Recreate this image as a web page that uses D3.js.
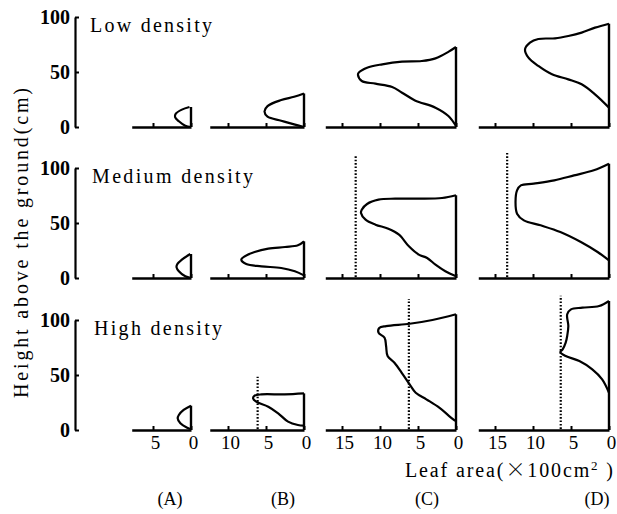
<!DOCTYPE html>
<html>
<head>
<meta charset="utf-8">
<script src="https://cdn.jsdelivr.net/npm/d3@7"></script>
<style>
  body { margin: 0; background: #fff; }
  svg text { font-family: "Liberation Serif", "DejaVu Serif", serif; fill: #000; }
</style>
</head>
<body>
<script>
/**
 * vertical leaf area profiles, 3 densities x 4 growth stages
 */

var columns = ["(A)", "(B)", "(C)", "(D)"];
var densities = ["Low density", "Medium density", "High density"];
var heightTicks = [0, 50, 100];
var areaTicks = [[5, 0], [10, 5, 0], [15, 10, 5, 0], [15, 10, 5, 0]];
var areaExtent = [7.8, 12.4, 17.2, 17.2];

// [leaf area (x100 cm2), height (cm)], from top of the stand down
var lowProfiles = [
	[[0.2, 18.2], [1.2, 15.8], [2.0, 12.1], [2.1, 9.1], [1.6, 5.2], [0.75, 1.2], [0, 0]],
	[[0, 30.5], [1.3, 27.5], [3.0, 24.5], [4.8, 19], [5.2, 14], [4.8, 9.4], [3.0, 5.7], [1.3, 2.4], [0, 0]],
	[[0, 72.7], [0.96, 68.5], [2.7, 62.4], [4.5, 60], [7.1, 59.4], [9.7, 57], [11.7, 53.9], [12.8, 49.4],
	 [12.9, 47.3], [12.4, 41.8], [10.6, 39.4], [8.4, 36.4], [7.1, 31.2], [5.4, 24.2], [2.7, 17.6], [1.0, 10], [0, 0.9]],
	[[0, 93.9], [1.84, 90.3], [3.6, 85.8], [5.35, 82.7], [7.1, 80.6], [9.3, 80], [10.4, 76.7], [11.05, 70.6],
	 [10.6, 63], [9.3, 55.5], [7.5, 47.9], [5.35, 43.3], [3.6, 38.8], [1.84, 29.7], [0, 17.6]]
];

var mediumProfiles = [
	[[0.1, 21.8], [1.2, 16.7], [1.84, 12.1], [1.9, 9.7], [1.6, 6.1], [0.75, 1.5], [0, 0]],
	[[0, 33.3], [0.8, 29.7], [2.5, 28.2], [4.7, 26.7], [6.5, 23.6], [7.8, 19.7], [8.25, 16.7], [7.6, 12.7],
	 [5.6, 10.6], [3.0, 9.1], [1.2, 6.1], [0, 2.4]],
	[[0, 75.2], [1.84, 72.7], [4.9, 72.1], [8.0, 72.1], [10.2, 71.2], [11.7, 67.3], [12.4, 62.1], [12.5, 59.1],
	 [11.9, 53], [10.6, 48.5], [8.9, 44.8], [7.5, 39.4], [6.2, 28.8], [4.9, 21.2], [3.8, 18.2], [2.7, 12.1],
	 [1.4, 6.1], [0, 1.5]],
	[[0, 103.9], [2.0, 97.9], [4.6, 93.3], [7.2, 88.8], [9.9, 85.8], [11.6, 84.2], [12.1, 79.7], [12.3, 69.1],
	 [12.1, 58.5], [11.2, 52.4], [9.0, 47.9], [6.4, 41.8], [3.7, 32.7], [1.5, 23.6], [0, 16.1]]
];

var highProfiles = [
	[[0, 22.1], [0.97, 18.2], [1.6, 13.6], [1.75, 10.6], [1.4, 6.1], [0.5, 2.1], [0, 0.9]],
	[[0, 33.3], [2.55, 32.4], [5.6, 32.4], [6.5, 31.2], [6.7, 28.8], [6.3, 25.8], [4.7, 21.2], [3.4, 15.2],
	 [2.1, 7.6], [0.8, 4.5], [0, 3.9]],
	[[0, 105.2], [3.1, 100], [6.1, 96.6], [9.2, 94.5], [10.1, 92.7], [10.2, 88.5], [9.4, 83.9], [9.2, 76.4],
	 [9.0, 67.3], [8.1, 61.2], [7.0, 50.6], [6.1, 41.5], [5.3, 33.9], [3.9, 27.9], [2.2, 20.3], [0.9, 12.7], [0.1, 8.2]],
	[[0, 117.3], [1.3, 112.7], [3.5, 111.2], [5.0, 109.7], [5.5, 105.2], [5.35, 94.5], [5.5, 85.5], [5.7, 79.4],
	 [6.1, 73.3], [6.4, 70.9], [5.7, 67.3], [3.9, 62.7], [2.2, 55.2], [0.9, 46.1], [0, 33.9]]
];

// dotted lines [leaf area, top height], null where there is none
var lowDotted = [null, null, null, null];
var mediumDotted = [null, null, [13.2, 112], [13.4, 114.5]];
var highDotted = [null, [6.1, 48.5], [6.2, 119], [6.35, 122]];

var profiles = [lowProfiles, mediumProfiles, highProfiles];
var dotted = [lowDotted, mediumDotted, highDotted];

// layout
var width = 617, height = 514;
var zeroX = [191, 304, 456, 609];
var baseY = [127, 278, 430];
var unitX = 7.6, unitY = 1.1;
var yAxisX = 75;
var serif = "'Liberation Serif', 'DejaVu Serif', serif";

var svg = d3.select("body")
	.append("svg")
	.attr("width", width)
	.attr("height", height);

var line = d3.line()
	.x(function(d) { return d.x; })
	.y(function(d) { return d.y; })
	.curve(d3.curveCatmullRom.alpha(0.5));

for (var r = 0; r < densities.length; r++) {
	var y = d3.scaleLinear().domain([0, 100]).range([baseY[r], baseY[r] - 100 * unitY]);

	// height axis
	var yAxis = svg.append("g")
		.attr("transform", "translate(" + yAxisX + ",0)")
		.call(d3.axisLeft(y).tickValues(heightTicks).tickSize(-4).tickSizeOuter(0).tickPadding(5));
	yAxis.select(".domain").attr("stroke", "#000").attr("stroke-width", 2.2);
	yAxis.selectAll(".tick line").attr("stroke", "#000").attr("stroke-width", 2);
	yAxis.selectAll(".tick text")
		.style("font-size", "20px")
		.style("font-weight", "bold")
		.style("font-family", serif);

	svg.append("text")
		.attr("x", 90 + r * 2)
		.attr("y", baseY[r] - 95)
		.style("font-size", "20px")
		.attr("textLength", [122, 161, 128][r])
		.attr("lengthAdjust", "spacing")
		.text(densities[r]);

	for (var c = 0; c < columns.length; c++) {
		var x = d3.scaleLinear().domain([0, areaExtent[c]]).range([zeroX[c], zeroX[c] - areaExtent[c] * unitX]);

		// leaf area baseline
		var xAxis = svg.append("g")
			.attr("transform", "translate(0," + baseY[r] + ")")
			.call(d3.axisBottom(x).tickValues(areaTicks[c]).tickSize(-4).tickSizeOuter(0).tickPadding(6)
				.tickFormat(r == densities.length - 1 ? d3.format("d") : function() { return ""; }));
		xAxis.select(".domain").attr("stroke", "#000").attr("stroke-width", 2.4);
		xAxis.selectAll(".tick line").attr("stroke", "#000").attr("stroke-width", 2);
		xAxis.selectAll(".tick text")
			.attr("dx", 2)
			.style("font-size", "19px")
			.style("font-family", serif);

		var prof = profiles[r][c];
		var topH = prof[0][1];

		// stem side of the profile
		svg.append("line")
			.attr("x1", x(0)).attr("x2", x(0))
			.attr("y1", y(0)).attr("y2", y(topH))
			.attr("stroke", "black")
			.attr("stroke-width", 2.4);

		svg.append("path")
			.datum(prof.map(function(p) { return {x: x(p[0]), y: y(p[1])}; }))
			.attr("d", line)
			.attr("fill", "none")
			.attr("stroke", "black")
			.attr("stroke-width", 2.2)
			.attr("stroke-linejoin", "round");

		var dl = dotted[r][c];
		if (dl) {
			svg.append("line")
				.attr("x1", x(dl[0])).attr("x2", x(dl[0]))
				.attr("y1", y(1)).attr("y2", y(dl[1]))
				.attr("stroke", "black")
				.attr("stroke-width", 2.2)
				.attr("stroke-dasharray", "1.6,1.8");
		}

		if (r == densities.length - 1) {
			svg.append("text")
				.attr("x", [170, 283, 427, 597][c])
				.attr("y", 505)
				.attr("text-anchor", "middle")
				.style("font-size", "18px")
				.text(columns[c]);
		}
	}
}

// x title, the multiplication sign is set wide like in the print
var xTitle = svg.append("text")
	.attr("x", 405)
	.attr("y", 477)
	.attr("textLength", 208)
	.attr("lengthAdjust", "spacing")
	.style("font-size", "20px");
xTitle.append("tspan").text("Leaf area(");
xTitle.append("tspan").style("font-family", "'Noto Sans CJK JP', sans-serif").style("font-weight", "300").text("×");
xTitle.append("tspan").text("100cm");
xTitle.append("tspan").attr("dy", -7).style("font-size", "13px").text("2");
xTitle.append("tspan").attr("dy", 7).text(" )");

svg.append("text")
	.attr("transform", "translate(28,243) rotate(-90)")
	.attr("text-anchor", "middle")
	.style("font-size", "20px")
	.attr("textLength", 310)
	.attr("lengthAdjust", "spacing")
	.text("Height above the ground(cm)");
</script>
</body>
</html>
